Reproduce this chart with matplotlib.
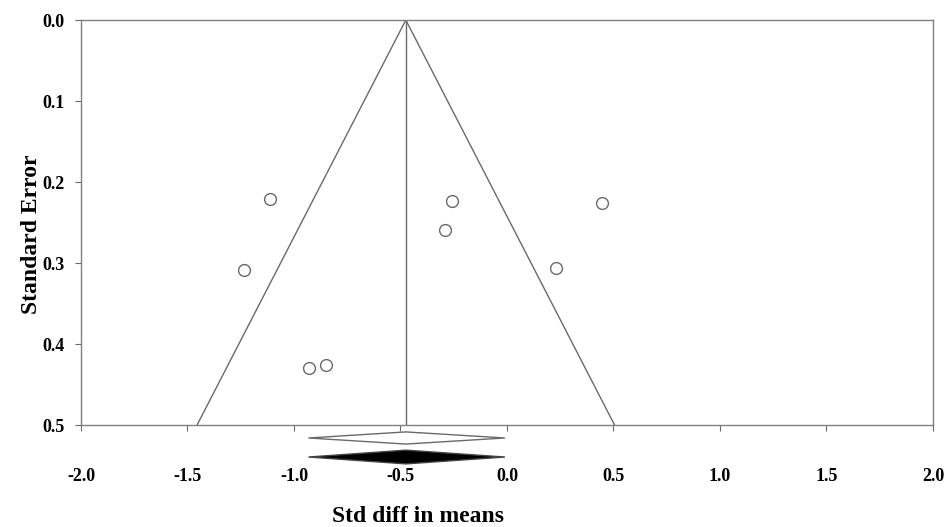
import matplotlib.pyplot as plt
import numpy as np

# studies: std diff in means and standard error
effect = [-1.113, -1.235, -0.930, -0.850, -0.258, -0.291, 0.230, 0.446]
std_err = [0.221, 0.309, 0.430, 0.426, 0.2235, 0.259, 0.306, 0.226]

# pooled estimate (observed and imputed diamonds)
pooled = -0.475
pooled_lo = -0.932
pooled_hi = -0.010

xticks = [-2.0, -1.5, -1.0, -0.5, 0.0, 0.5, 1.0, 1.5, 2.0]
yticks = [0.0, 0.1, 0.2, 0.3, 0.4, 0.5]
se_max = 0.5

plt.rcParams['font.family'] = ['Liberation Serif', 'DejaVu Serif']
plt.rcParams['font.weight'] = 'bold'

fig = plt.figure(figsize=(9.45, 5.27), dpi=100)
ax = fig.add_axes([0.0857, 0.1935, 0.9016, 0.7685])

line_col = '#6a6a6a'

# funnel
ax.plot([pooled - 1.96 * se_max, pooled, pooled + 1.96 * se_max], [se_max, 0, se_max],
        color=line_col, lw=1)
ax.plot([pooled, pooled], [0, se_max], color=line_col, lw=1)

# studies
ax.plot(effect, std_err, 'o', ms=8.5, mfc='white', mec=line_col, mew=1)

# diamonds below the axis
def diamond(y, h, face, edge):
    xs = [pooled_lo, pooled, pooled_hi, pooled, pooled_lo]
    ys = [y, y - h, y, y + h, y]
    ax.fill(xs, ys, facecolor=face, edgecolor=edge, lw=1, clip_on=False)

diamond(0.516, 0.0075, 'white', line_col)
diamond(0.5395, 0.0085, 'black', '#444444')

ax.set_xlim(-2, 2)
ax.set_ylim(se_max, 0)
ax.set_xticks(xticks)
ax.set_yticks(yticks)
ax.set_xticklabels([f'{t:.1f}' for t in xticks])
ax.set_yticklabels([f'{t:.1f}' for t in yticks])
ax.tick_params(axis='x', length=4, pad=27, labelsize=13, color=line_col)
ax.tick_params(axis='y', length=4, pad=8, labelsize=13, color=line_col)
for s in ax.spines.values():
    s.set_color('#808080')
    s.set_linewidth(1)

ax.set_ylabel('Standard Error', fontsize=17, fontweight='bold')
ax.yaxis.set_label_coords(-0.046, 0.47)
fig.text(418 / 945, 1 - 517 / 527, 'Std diff in means', fontsize=17, fontweight='bold',
         ha='center', va='center')

plt.savefig('out.png', dpi=100)
